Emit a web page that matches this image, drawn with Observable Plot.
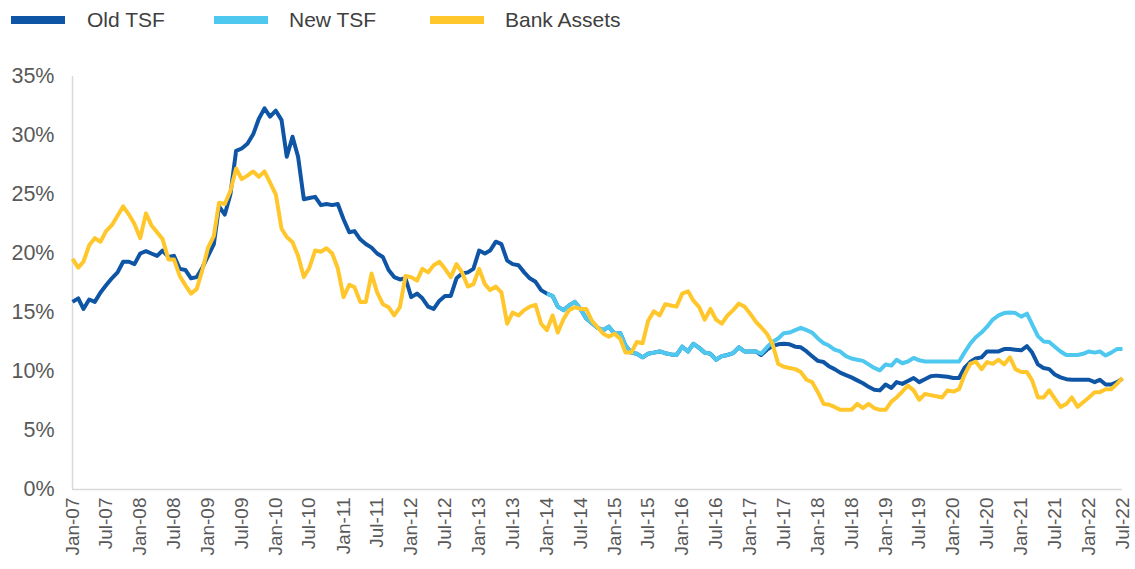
<!DOCTYPE html>
<html><head><meta charset="utf-8">
<script src="https://cdn.jsdelivr.net/npm/d3@7"></script>
<script src="https://cdn.jsdelivr.net/npm/@observablehq/plot@0.6"></script>
<style>
body{margin:0;background:#fff;width:1135px;height:569px;overflow:hidden;}
#legend{position:relative;height:45px;}
.item{position:absolute;top:7px;display:flex;align-items:center;font-family:"Liberation Sans",Arial,sans-serif;font-size:21px;color:#404040;line-height:26px;}
.sw{width:54px;height:8px;}
#chart svg{display:block;}
</style></head><body>
<div id="legend"></div><div id="chart"></div>
<script>
// Series metadata
const seriesNames = ["Old TSF", "New TSF", "Bank Assets"];
const seriesColors = ["#0e56a5", "#4fc8f0", "#ffc72c"];
const firstMonth = "2007-01";      // Old TSF & Bank Assets start
const newTSFFirstMonth = "2014-01"; // New TSF starts
const lastMonth = "2022-07";

// Monthly values, % (Jan-07 .. Jul-22)
const oldTSF = [
15.9,16.2,15.3,16.1,15.9,16.7,17.3,17.9,18.4,19.3,
19.3,19.1,20.0,20.2,20.0,19.8,20.25,19.7,19.8,18.7,
18.6,17.9,18.0,18.8,19.8,20.8,24.0,23.3,25.0,28.7,
28.9,29.3,30.1,31.4,32.3,31.6,32.1,31.3,28.2,29.9,
28.2,24.6,24.7,24.8,24.1,24.2,24.1,24.2,22.9,21.8,
21.9,21.2,20.8,20.5,20.0,19.7,18.6,18.0,17.8,17.9,
16.3,16.6,16.2,15.5,15.3,16.0,16.4,16.4,17.9,18.3,
18.4,18.7,20.25,20.0,20.25,21.0,20.8,19.4,19.1,19.0,
18.4,17.9,17.6,16.9,16.6,16.4,15.5,15.2,15.6,15.9,
15.3,14.5,14.1,13.7,13.5,13.8,13.2,13.25,12.2,11.6,
11.5,11.2,11.5,11.6,11.7,11.55,11.45,11.4,12.1,11.7,
12.35,12.0,11.6,11.5,11.0,11.3,11.4,11.55,12.05,11.7,
11.7,11.7,11.4,11.85,12.15,12.3,12.35,12.3,12.1,12.05,
11.7,11.3,10.9,10.8,10.45,10.2,9.9,9.7,9.5,9.25,
9.0,8.7,8.45,8.4,8.9,8.6,9.1,8.95,9.2,9.45,
9.1,9.35,9.6,9.65,9.6,9.55,9.45,9.45,10.3,10.8,
11.1,11.2,11.7,11.7,11.7,11.9,11.9,11.85,11.8,12.15,
11.6,10.6,10.3,10.2,9.75,9.5,9.35,9.3,9.3,9.3,
9.3,9.1,9.3,8.9,8.9,9.1,9.4
];

// Monthly values, % (Jan-14 .. Jul-22)
const newTSF = [
16.6,16.4,15.5,15.2,15.6,15.9,15.3,14.5,14.1,13.7,
13.5,13.8,13.2,13.25,12.2,11.6,11.5,11.2,11.5,11.6,
11.7,11.55,11.45,11.4,12.1,11.7,12.35,12.0,11.6,11.5,
11.0,11.3,11.4,11.55,12.05,11.7,11.7,11.7,11.5,12.05,
12.5,12.8,13.25,13.3,13.5,13.7,13.5,13.3,12.8,12.4,
12.2,11.85,11.7,11.3,11.1,11.0,10.9,10.6,10.3,10.1,
10.6,10.5,11.0,10.7,10.85,11.15,10.95,10.85,10.85,10.85,
10.85,10.85,10.85,10.85,11.6,12.35,12.9,13.3,13.8,14.4,
14.75,14.95,15.0,14.95,14.65,14.9,14.0,13.0,12.55,12.5,
12.1,11.7,11.4,11.4,11.4,11.5,11.7,11.6,11.7,11.35,
11.6,11.9,11.9
];

// Monthly values, % (Jan-07 .. Jul-22)
const bankAssets = [
19.55,18.8,19.3,20.7,21.3,21.0,21.9,22.4,23.2,24.0,
23.3,22.5,21.3,23.4,22.4,21.8,21.2,19.5,19.5,18.1,
17.3,16.6,17.0,18.6,20.5,21.5,24.3,24.2,25.3,27.2,
26.3,26.6,26.95,26.5,26.95,26.0,25.0,22.1,21.4,20.95,
19.8,18.0,18.8,20.25,20.15,20.45,20.0,18.75,16.3,17.35,
17.15,15.9,15.9,18.3,16.7,15.7,15.45,14.75,15.45,18.1,
18.0,17.7,18.7,18.4,19.0,19.3,18.7,18.0,19.1,18.4,
17.2,17.4,18.7,17.4,16.9,17.2,16.7,14.05,15.0,14.75,
15.2,15.5,15.65,14.05,13.5,14.75,13.3,14.45,15.2,15.45,
15.3,15.3,14.3,13.75,13.2,12.95,13.2,12.75,11.6,11.6,
12.5,12.4,14.3,15.1,14.75,15.7,15.6,15.5,16.6,16.8,
16.0,15.45,14.4,15.3,14.4,14.05,14.75,15.2,15.75,15.5,
14.9,14.2,13.75,13.2,12.35,10.65,10.4,10.3,10.2,9.95,
9.3,9.1,8.25,7.25,7.2,7.0,6.75,6.75,6.75,7.25,
6.9,7.25,6.9,6.75,6.75,7.45,7.8,8.3,8.8,8.4,
7.6,8.1,8.0,7.9,7.8,8.4,8.3,8.5,9.7,10.65,
10.85,10.2,10.8,10.65,11.0,10.6,11.2,10.2,9.95,9.95,
9.25,7.8,7.8,8.4,7.7,7.0,7.25,7.8,7.0,7.4,
7.8,8.25,8.25,8.5,8.5,8.95,9.45
];

const yTicks = [0, 5, 10, 15, 20, 25, 30, 35];
const xTickEveryMonths = 6;
const xTickFormat = "%b-%y";

// ---- build table ----
const parseM = d3.utcParse("%Y-%m");
function toRows(name, start, values) {
  const s = parseM(start);
  return values.map((v, i) => ({series: name, date: d3.utcMonth.offset(s, i), value: v}));
}
const rows = [
  ...toRows(seriesNames[0], firstMonth, oldTSF),
  ...toRows(seriesNames[1], newTSFFirstMonth, newTSF),
  ...toRows(seriesNames[2], firstMonth, bankAssets)
];
const x0 = parseM(firstMonth), x1 = parseM(lastMonth);
const xTicks = d3.utcMonth.every(xTickEveryMonths).range(x0, d3.utcMonth.offset(x1, 1));

// ---- legend ----
const legendPos = [[11, 87], [214, 289], [430, 505]];
const lg = document.getElementById("legend");
seriesNames.forEach((n, i) => {
  const it = document.createElement("div");
  it.className = "item";
  it.style.left = legendPos[i][0] + "px";
  const sw = document.createElement("span");
  sw.className = "sw"; sw.style.background = seriesColors[i];
  sw.style.marginRight = (legendPos[i][1] - legendPos[i][0] - 54) + "px";
  const tx = document.createElement("span");
  tx.textContent = n;
  it.appendChild(sw); it.appendChild(tx);
  lg.appendChild(it);
});

// ---- chart ----
const chart = Plot.plot({
  width: 1135, height: 524,
  marginTop: 31, marginBottom: 80, marginLeft: 72, marginRight: 13,
  style: {fontFamily: "'Liberation Sans', Arial, sans-serif", color: "#595959", background: "#fff"},
  x: {type: "utc", domain: [x0, x1]},
  y: {domain: [0, 35]},
  color: {domain: seriesNames, range: seriesColors},
  marks: [
    Plot.axisY({ticks: yTicks, tickFormat: d => d + "%", tickSize: 0, tickPadding: 18, fontSize: 21.5, label: null}),
    Plot.axisX({ticks: xTicks, tickFormat: d3.utcFormat(xTickFormat), tickRotate: -90, tickSize: 0, tickPadding: 8, fontSize: 19, label: null}),
    Plot.ruleY([0], {stroke: "#d9d9d9", strokeWidth: 1.5}),
    Plot.ruleX([x0], {stroke: "#d9d9d9", strokeWidth: 1.5}),
    Plot.line(rows, {x: "date", y: "value", z: "series", stroke: "series", strokeWidth: 4, strokeLinejoin: "round", strokeLinecap: "butt"})
  ]
});
document.getElementById("chart").appendChild(chart);
</script></body></html>
